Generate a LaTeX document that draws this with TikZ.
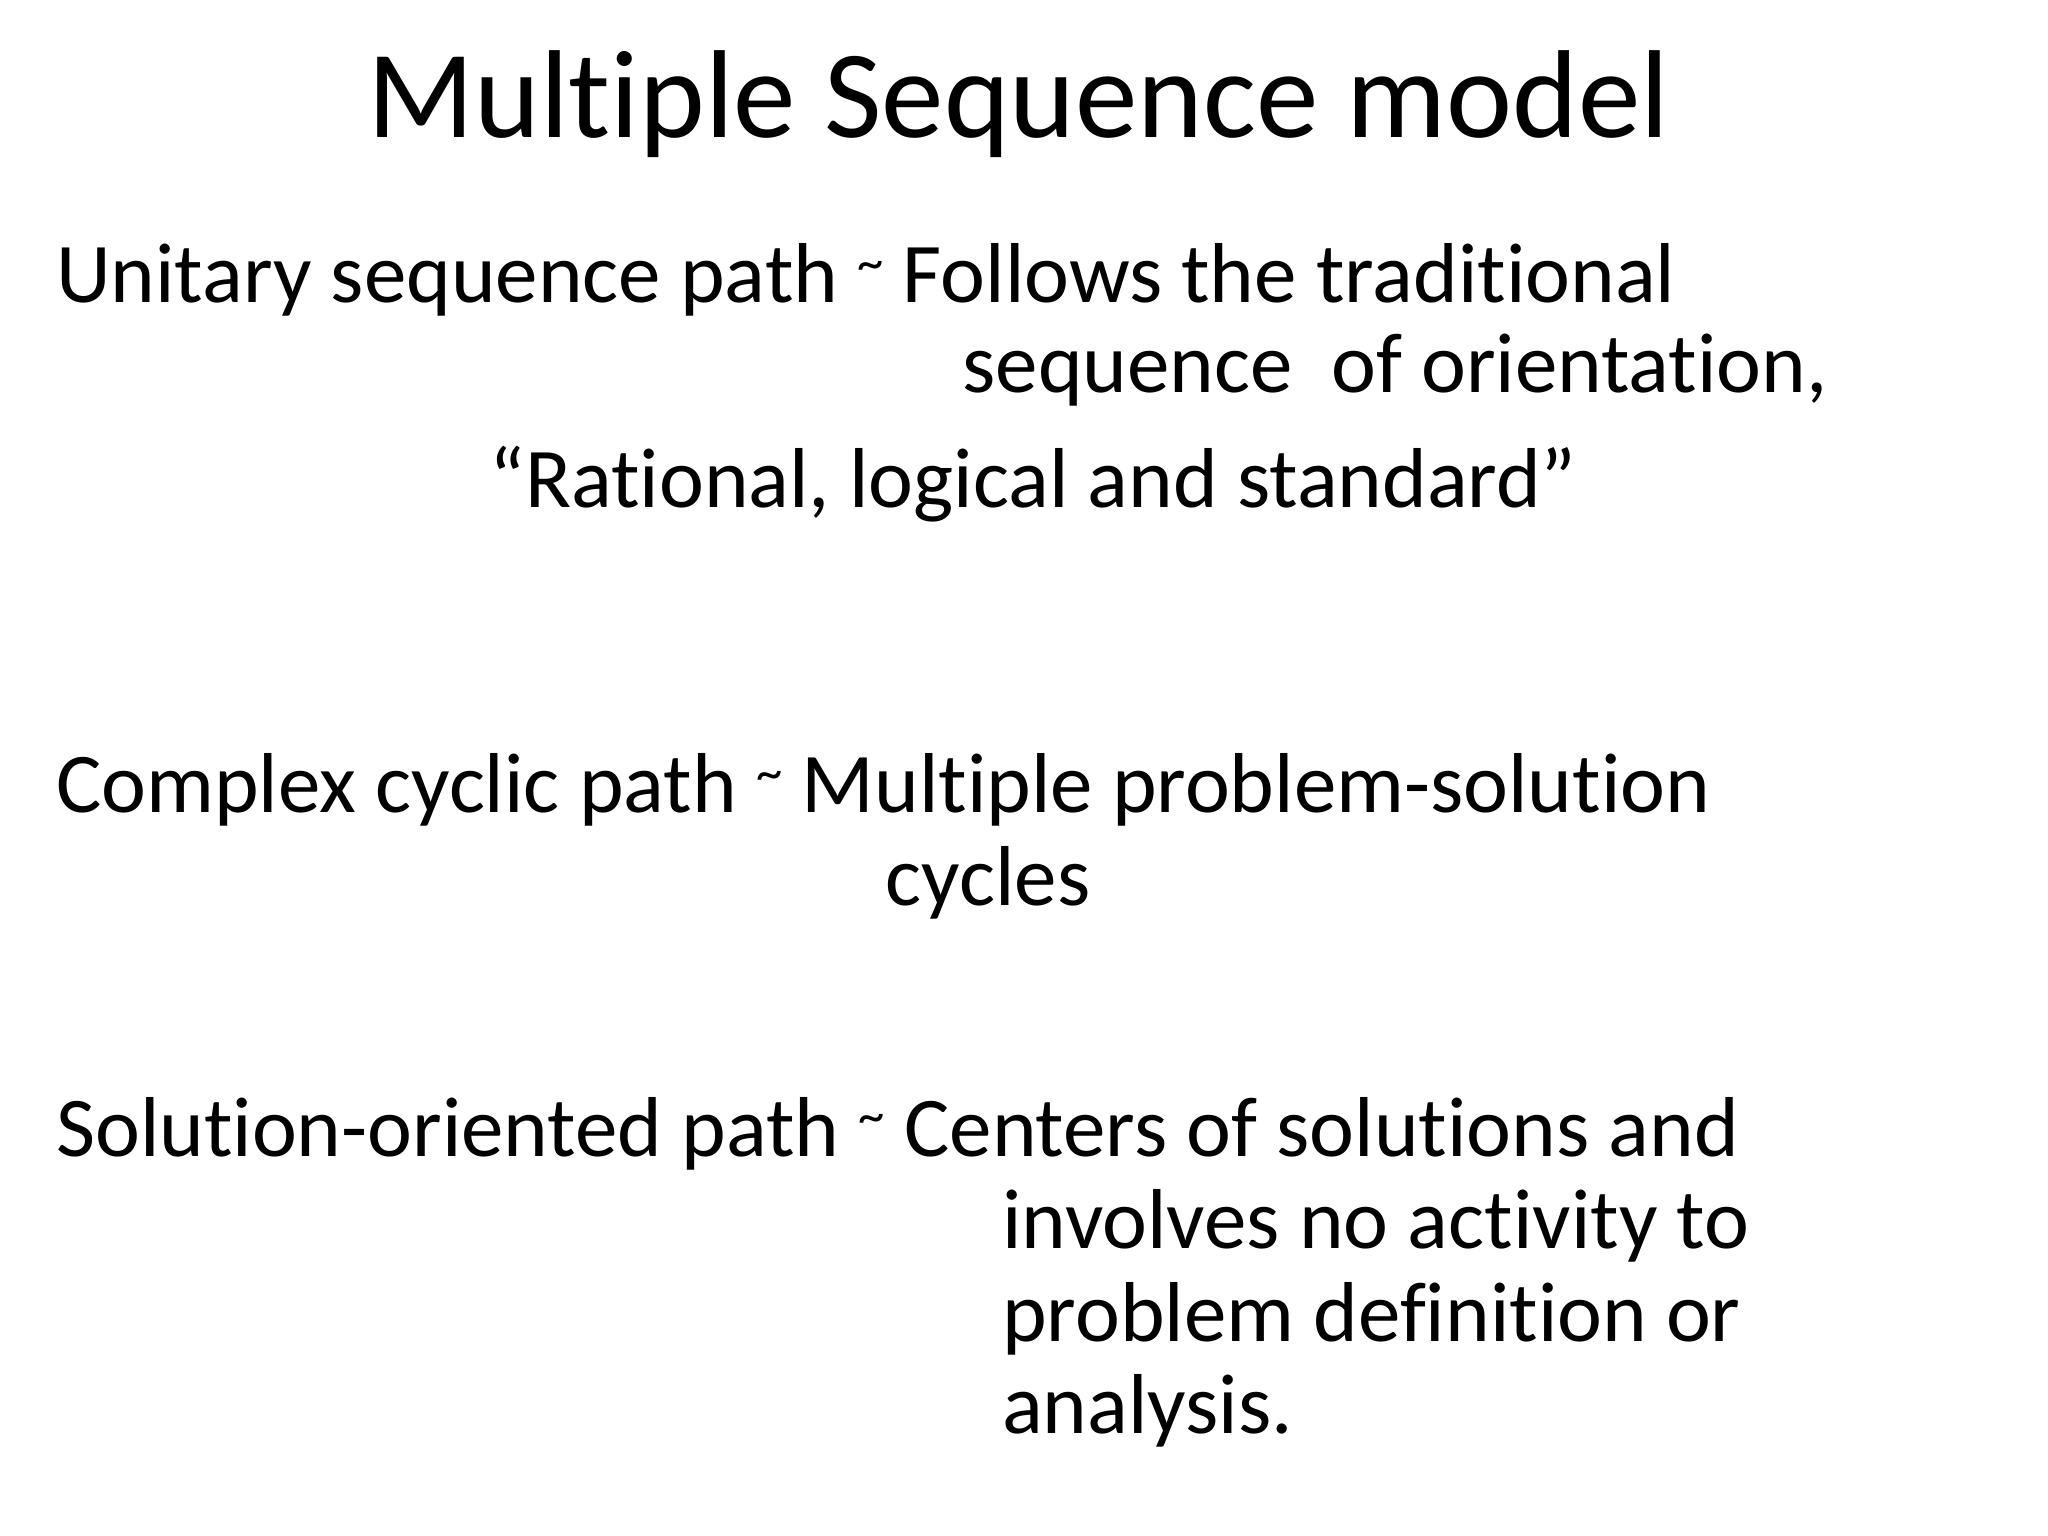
\documentclass[tikz,border=0pt]{standalone}
\usepackage{fontspec}
\setmainfont[Ligatures=NoCommon]{Carlito}
\newcommand{\mytil}{\raisebox{0.55ex}{\fontsize{15}{15}\selectfont\textasciitilde}}
\begin{document}
\begin{tikzpicture}[x=0.013213cm,y=-0.013213cm,
  body/.style={anchor=base west,inner sep=0pt,font=\fontsize{24.2}{29}\selectfont},
  ttl/.style={anchor=base,inner sep=0pt,font=\fontsize{35.6}{42}\selectfont}]
\useasboundingbox (0,0) rectangle (1550,1162.5);
\node[ttl] (t) at (771,104) {Multiple Sequence model};
\node[body] (a1) at (42,229) {Unitary sequence path \mytil\ Follows the traditional};
\node[body] (a2) at (728,297) {sequence\ \ of orientation,};
\node[body] (a3) at (370,384) {“Rational, logical and standard”};
\node[body] (b1) at (42,615) {Complex cyclic path \mytil\ Multiple problem-solution};
\node[body] (b2) at (670,685) {cycles};
\node[body] (c1) at (42,875) {Solution-oriented path \mytil\ Centers of solutions and};
\node[body] (c2) at (758,945) {involves no activity to};
\node[body] (c3) at (758,1015) {problem definition or};
\node[body] (c4) at (758,1085) {analysis.};
\end{tikzpicture}
\end{document}
